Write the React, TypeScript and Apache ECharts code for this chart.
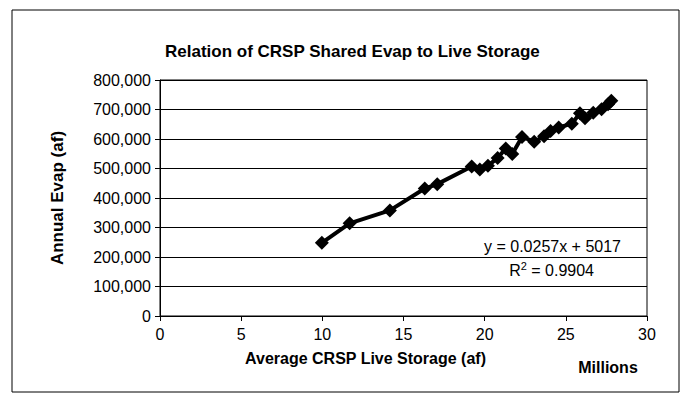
import React, { useEffect, useRef } from "react";
import * as echarts from "echarts";

const storageMillions = [9.97, 11.68, 14.16, 16.31, 17.08, 19.2, 19.7, 20.2, 20.8, 21.3, 21.7, 22.3, 23.05, 23.66, 24.06, 24.56, 25.37, 25.87, 26.18, 26.69, 27.2, 27.6, 27.8];
const annualEvap = [248000, 314000, 358000, 432000, 447000, 507000, 497000, 509000, 536000, 568000, 549000, 607000, 591000, 609000, 627000, 639000, 652000, 687000, 670000, 689000, 701000, 718000, 730000];
const xTicks = [0, 5, 10, 15, 20, 25, 30];
const yTicks = [0, 100000, 200000, 300000, 400000, 500000, 600000, 700000, 800000];
const titleText = "Relation of CRSP Shared Evap to Live Storage";
const equationText = "y = 0.0257x + 5017";
const r2Text = "0.9904";

const FONT = "'Liberation Sans', Arial, sans-serif";

export default function App() {
  const ref = useRef<HTMLDivElement>(null);
  useEffect(() => {
    if (!ref.current) return;
    const chart = echarts.init(ref.current, undefined, { renderer: "svg" });
    const data = storageMillions.map((x, i) => [x, annualEvap[i]]);
    chart.setOption({
      animation: false,
      backgroundColor: "#ffffff",
      textStyle: { fontFamily: FONT, color: "#000" },
      title: {
        text: titleText,
        left: 160,
        top: 38,
        textStyle: { fontFamily: FONT, fontSize: 17, fontWeight: "bold", color: "#000" },
      },
      grid: { left: 160, right: 39, top: 80, bottom: 96, show: true, borderColor: "#000", borderWidth: 1, backgroundColor: "#fff" },
      xAxis: {
        type: "value",
        min: xTicks[0],
        max: xTicks[xTicks.length - 1],
        interval: 5,
        name: "Average CRSP Live Storage (af)",
        nameLocation: "middle",
        nameGap: 34,
        nameTextStyle: { fontFamily: FONT, fontSize: 16, fontWeight: "bold", color: "#000", padding: [0, 76, 0, 0] },
        axisLine: { show: true, lineStyle: { color: "#000", width: 1 } },
        axisTick: { show: true, length: 5, lineStyle: { color: "#000" } },
        axisLabel: { fontFamily: FONT, fontSize: 16, color: "#000", margin: 10 },
        splitLine: { show: false },
      },
      yAxis: {
        type: "value",
        min: yTicks[0],
        max: yTicks[yTicks.length - 1],
        interval: 100000,
        name: "Annual Evap (af)",
        nameLocation: "middle",
        nameGap: 94,
        nameTextStyle: { fontFamily: FONT, fontSize: 17, fontWeight: "bold", color: "#000" },
        axisLine: { show: true, lineStyle: { color: "#000", width: 1 } },
        axisTick: { show: true, length: 5, lineStyle: { color: "#000" } },
        axisLabel: {
          fontFamily: FONT,
          fontSize: 16,
          color: "#000",
          margin: 9,
          formatter: (v: number) => v.toLocaleString("en-US"),
        },
        splitLine: { show: true, lineStyle: { color: "#000", width: 1 } },
      },
      series: [
        {
          type: "line",
          data,
          symbol: "diamond",
          symbolSize: 14,
          itemStyle: { color: "#000" },
          lineStyle: { color: "#000", width: 4 },
        },
      ],
      graphic: [
        {
          type: "rect",
          shape: { x: 12, y: 10, width: 667, height: 382 },
          style: { fill: "none", stroke: "#000", lineWidth: 1 },
          silent: true,
          z: -1,
        },
        {
          type: "text",
          x: 621,
          y: 246,
          style: { text: equationText, fontFamily: FONT, fontSize: 16, fill: "#000", align: "right", verticalAlign: "middle" },
        },
        {
          type: "text",
          x: 594,
          y: 270,
          style: {
            text: "R{s|2} = " + r2Text,
            fontFamily: FONT,
            fontSize: 16,
            fill: "#000",
            align: "right",
            verticalAlign: "middle",
            rich: { s: { fontFamily: FONT, fontSize: 11, verticalAlign: "top", padding: [0, 0, 8, 0] } },
          },
        },
        {
          type: "text",
          x: 608,
          y: 367,
          style: { text: "Millions", fontFamily: FONT, fontSize: 16, fontWeight: "bold", fill: "#000", align: "center", verticalAlign: "middle" },
        },
      ],
    });
    return () => chart.dispose();
  }, []);
  return <div ref={ref} style={{ width: 686, height: 412, position: "absolute", left: 0, top: 0 }} />;
}
